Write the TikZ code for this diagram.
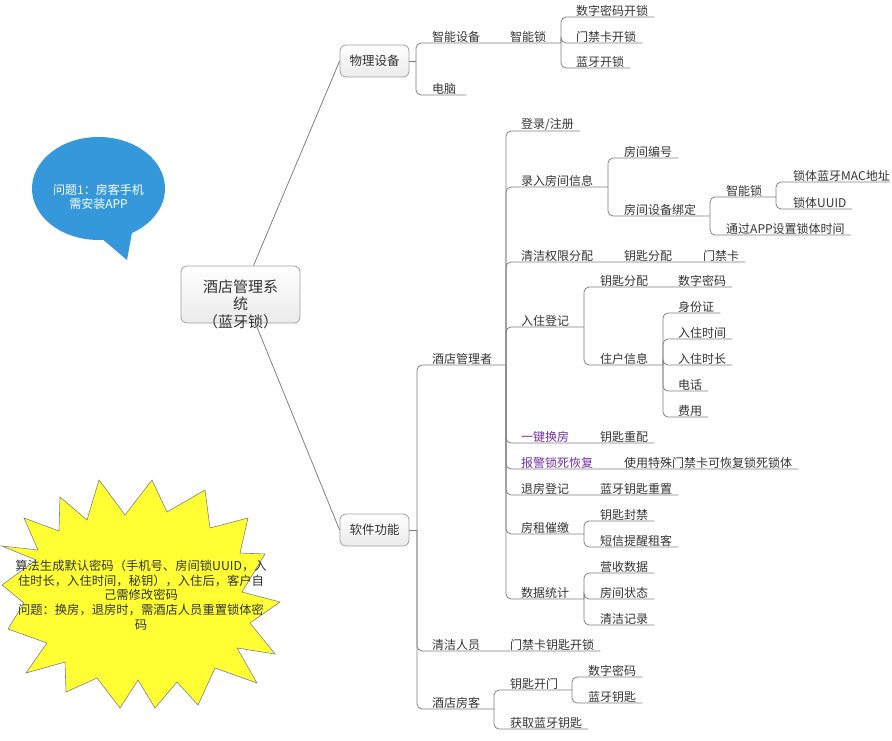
\documentclass[tikz,border=0pt]{standalone}
\usepackage{fontspec}
\setmainfont{Noto Sans CJK SC}
\usetikzlibrary{positioning,calc,shapes.callouts}
\definecolor{mline}{HTML}{808080}
\definecolor{mtext}{HTML}{333333}
\definecolor{mbox}{HTML}{A0A0A0}
\definecolor{mpurple}{HTML}{7030A0}
\definecolor{mblue}{HTML}{3598DB}
\definecolor{myellow}{HTML}{FFFF33}
\newcommand{\fs}{\fontsize{12}{14.5}\selectfont}
\newcommand{\fsroot}{\fontsize{15}{17.5}\selectfont}
\tikzstyle{conn}=[draw=mline, line width=0.8pt, rounded corners=5pt]
\tikzstyle{topic}=[anchor=south west, inner xsep=0pt, inner ysep=0.6pt, text=mtext, font=\fs]
\tikzstyle{hot}=[topic, text=mpurple]
\tikzstyle{mainbox}=[draw=mbox, line width=0.8pt, rounded corners=6pt, top color=white, bottom color=black!8]
\tikzstyle{branch}=[mainbox, minimum width=69pt, minimum height=32pt, text=mtext, font=\fontsize{12.5}{14}\selectfont]

\begin{document}
\begin{tikzpicture}[x=1pt, y=-1pt]
    \useasboundingbox (0,0) rectangle (892,741);

    % notes
    \node[ellipse callout, fill=mblue, minimum width=133pt, minimum height=103pt, callout absolute pointer={(127,260)}, callout pointer arc=26] (bubble) at (98.5,188.5) {};
    \node[text=white, font=\fs, align=center] (bubbleText) at (98.5,197) {问题1：房客手机\\需安装APP};

    \fill[myellow, draw=mline, line width=0.6pt] (99,480) -- (125,515) -- (152,480) -- (167,512) -- (205,490) -- (210,528) -- (248,518) -- (240,553) -- (265,554) -- (242,592) -- (280,602) -- (250,623) -- (275,654) -- (237,648) -- (257,683) -- (215,668) -- (198,705) -- (177,682) -- (155,708) -- (138,680) -- (120,708) -- (97,678) -- (66,692) -- (65,662) -- (26,673) -- (47,643) -- (8,629) -- (24,603) -- (2,585) -- (36,560) -- (2,546) -- (38,550) -- (24,518) -- (59,531) -- (60,497) -- (87,520) -- cycle;
    \node[text=mtext, font=\fontsize{12.3}{14.75}\selectfont, align=center] (burstText) at (141,595) {算法生成默认密码（手机号、房间锁UUID，入\\住时长，入住时间，秘钥），入住后，客户自\\己需修改密码\\问题：换房，退房时，需酒店人员重置锁体密\\码};

    % root and first level
    \node[mainbox, minimum width=119pt, minimum height=57pt] (root) at (240.5,294.5) {};
    \node[font=\fsroot, text=mtext, align=center] (rootText) at (240.5,304) {酒店管理系\\统\\（蓝牙锁）};
    \node[branch] (phys) at (374.5,61) {物理设备};
    \node[branch] (soft) at (374.5,530) {软件功能};
    \draw[conn] ([xshift=13pt]root.north) -- (phys.west);
    \draw[conn] ([xshift=15pt]root.south) -- (soft.west);

    % physical devices
    \coordinate (jPhys) at (416,61);
    \coordinate (jLock) at (561,43);
    \draw[conn] (phys.east) -- (jPhys);
    \node[topic] (smartDev) at (432,43) {智能设备};
    \node[topic] (lock) at (510,43) {智能锁};
    \node[topic] (pc) at (432,95) {电脑};
    \draw[conn] (jPhys) |- (jLock);
    \draw[conn] (jPhys) |- ([xshift=10pt]pc.south east);
    \foreach \n/\t/\y in {pwUnlock/数字密码开锁/17, cardUnlock/门禁卡开锁/43, btUnlock/蓝牙开锁/68}{
            \node[topic] (\n) at (576,\y) {\t};
            \draw[conn] (jLock) |- ([xshift=6pt]\n.south east);
        }

    % software functions
    \coordinate (jSoft) at (417,530);
    \coordinate (jMgr) at (506,365);
    \draw[conn] (soft.east) -- (jSoft);
    \node[topic] (mgr) at (432,365) {酒店管理者};
    \draw[conn] (jSoft) |- (jMgr);

    \coordinate (jRoom) at (608,187); \coordinate (jDev) at (710,216); \coordinate (jDevLock) at (776,197);
    \coordinate (jCheck) at (584,327); \coordinate (jGuest) at (663,365);
    \coordinate (jRent) at (584,534); \coordinate (jStats) at (584,599);
    \foreach \n/\t/\y/\j in {roomIn/录入房间信息/187/jRoom, checkIn/入住登记/327/jCheck, rent/房租催缴/534/jRent, stats/数据统计/599/jStats}{
            \node[topic] (\n) at (521,\y) {\t};
            \draw[conn] (jMgr) |- (\j);
        }

    \node[topic] (login) at (521,131) {登录/注册};
    \draw[conn] (jMgr) |- ([xshift=6pt]login.south east);

    \node[topic] (cleanPerm) at (521,262) {清洁权限分配};
    \node[topic] (keyA) at (624,262) {钥匙分配};
    \node[topic] (cardA) at (703,262) {门禁卡};
    \draw[conn] (jMgr) |- ([xshift=6pt]cardA.south east);

    \node[hot] (swap) at (521,443) {一键换房};
    \node[topic] (rekey) at (600,443) {钥匙重配};
    \draw[conn] (jMgr) |- ([xshift=6pt]rekey.south east);

    \node[hot] (alarm) at (521,469) {报警锁死恢复};
    \node[topic] (recover) at (624,469) {使用特殊门禁卡可恢复锁死锁体};
    \draw[conn] (jMgr) |- ([xshift=6pt]recover.south east);

    \node[topic] (checkOut) at (521,495) {退房登记};
    \node[topic] (btReset) at (600,495) {蓝牙钥匙重置};
    \draw[conn] (jMgr) |- ([xshift=6pt]btReset.south east);

    % room info
    \node[topic] (roomNo) at (624,158) {房间编号};
    \node[topic] (roomDev) at (624,216) {房间设备绑定};
    \draw[conn] (jRoom) |- ([xshift=6pt]roomNo.south east);
    \draw[conn] (jRoom) |- (jDev);
    \node[topic] (devLock) at (726,197) {智能锁};
    \node[topic] (appTime) at (726,235) {通过APP设置锁体时间};
    \draw[conn] (jDev) |- (jDevLock);
    \draw[conn] (jDev) |- ([xshift=6pt]appTime.south east);
    \node[topic] (macAddr) at (793,182) {锁体蓝牙MAC地址};
    \node[topic] (uuid) at (793,209) {锁体UUID};
    \draw[conn] (jDevLock) |- (macAddr.south east);
    \draw[conn] (jDevLock) |- ([xshift=6pt]uuid.south east);

    % check in
    \node[topic] (keyB) at (600,287) {钥匙分配};
    \node[topic] (pwB) at (678,287) {数字密码};
    \draw[conn] (jCheck) |- ([xshift=6pt]pwB.south east);
    \node[topic] (guestInfo) at (600,365) {住户信息};
    \draw[conn] (jCheck) |- (jGuest);
    \foreach \n/\t/\y in {idCard/身份证/313, inTime/入住时间/339, stayLen/入住时长/365, phone/电话/391, fee/费用/417}{
            \node[topic] (\n) at (678,\y) {\t};
            \draw[conn] (jGuest) |- ([xshift=6pt]\n.south east);
        }

    % rent and statistics
    \foreach \n/\t/\y in {keyBan/钥匙封禁/521, sms/短信提醒租客/547}{
            \node[topic] (\n) at (600,\y) {\t};
            \draw[conn] (jRent) |- ([xshift=6pt]\n.south east);
        }
    \foreach \n/\t/\y in {revenue/营收数据/573, roomState/房间状态/599, cleanLog/清洁记录/625}{
            \node[topic] (\n) at (600,\y) {\t};
            \draw[conn] (jStats) |- ([xshift=6pt]\n.south east);
        }

    % cleaner and hotel guest
    \node[topic] (cleaner) at (432,651) {清洁人员};
    \node[topic] (cardKey) at (510,651) {门禁卡钥匙开锁};
    \draw[conn] (jSoft) |- ([xshift=6pt]cardKey.south east);

    \coordinate (jHotelGuest) at (494,709); \coordinate (jOpen) at (572,690);
    \node[topic] (hotelGuest) at (432,709) {酒店房客};
    \draw[conn] (jSoft) |- (jHotelGuest);
    \node[topic] (keyOpen) at (510,690) {钥匙开门};
    \draw[conn] (jHotelGuest) |- (jOpen);
    \node[topic] (getKey) at (510,729) {获取蓝牙钥匙};
    \draw[conn] (jHotelGuest) |- ([xshift=6pt]getKey.south east);
    \foreach \n/\t/\y in {pwC/数字密码/677, btKey/蓝牙钥匙/703}{
            \node[topic] (\n) at (588,\y) {\t};
            \draw[conn] (jOpen) |- ([xshift=6pt]\n.south east);
        }

\end{tikzpicture}
\end{document}
